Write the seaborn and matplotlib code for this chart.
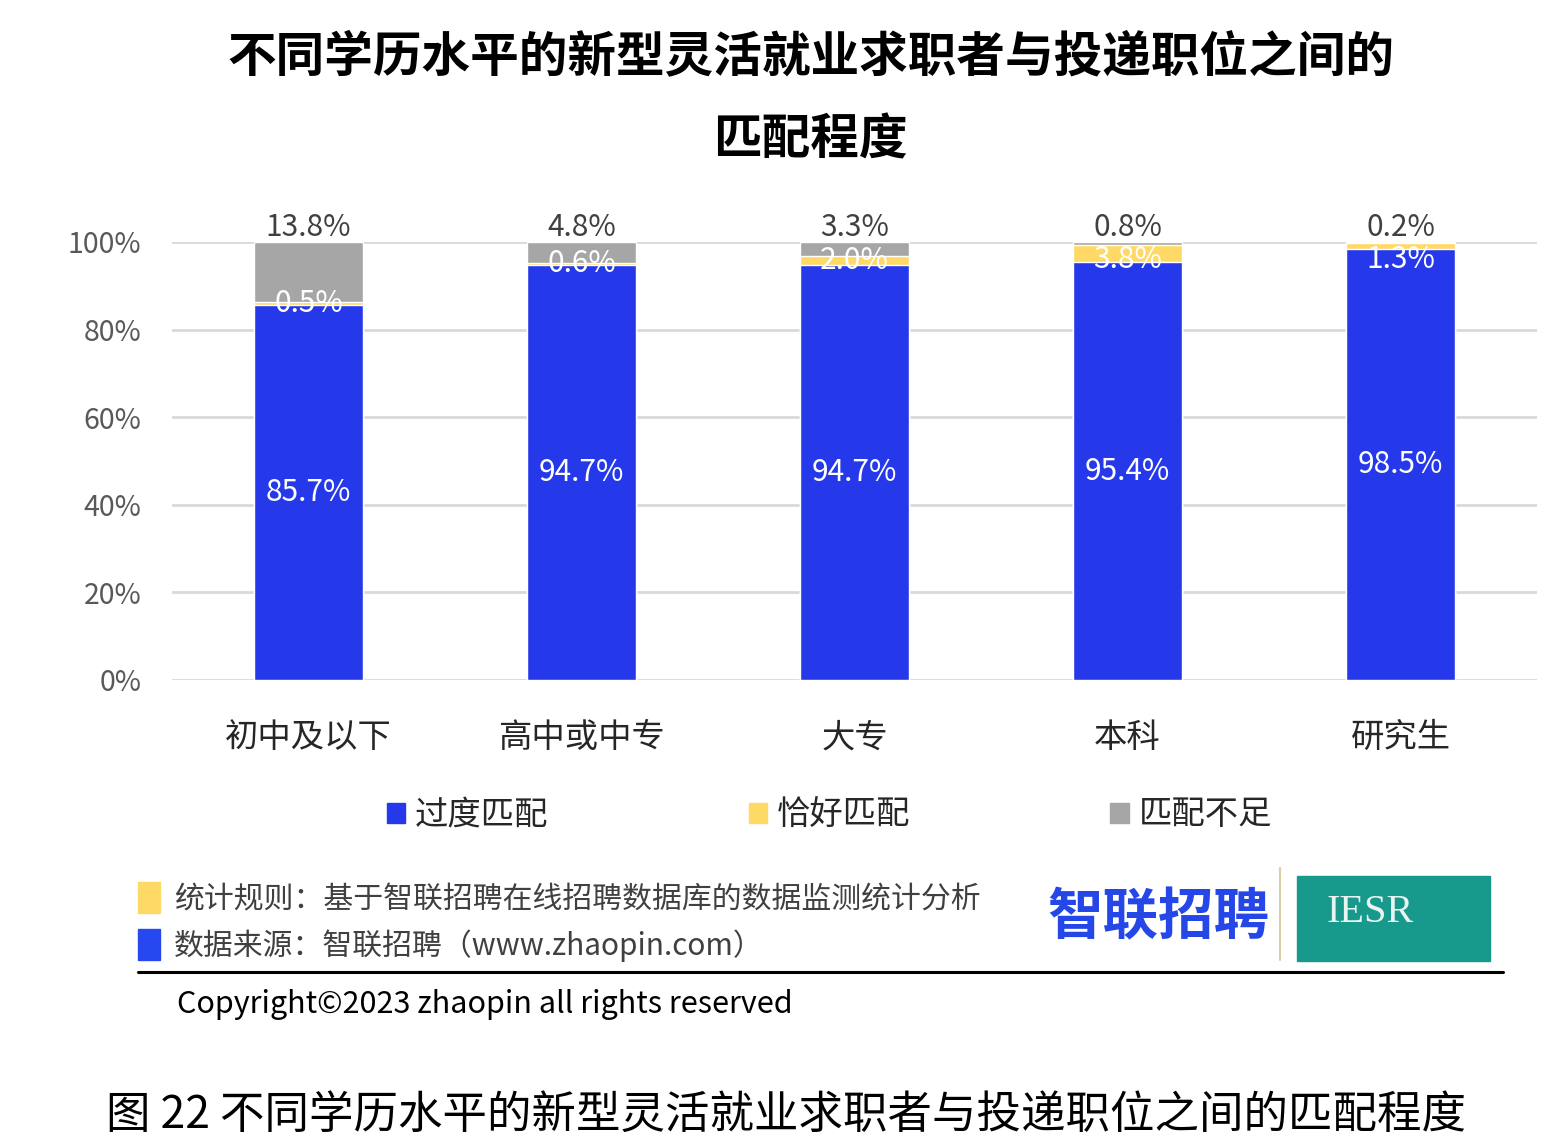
import matplotlib
matplotlib.use("Agg")
import matplotlib.pyplot as plt
import seaborn as sns
import pandas as pd
from matplotlib.patches import Rectangle, Patch
from matplotlib.lines import Line2D

# Données
categories = ["初中及以下", "高中或中专", "大专", "本科", "研究生"]
over_match = [85.7, 94.7, 94.7, 95.4, 98.5]
exact_match = [0.5, 0.6, 2.0, 3.8, 1.3]
under_match = [13.8, 4.8, 3.3, 0.8, 0.2]
series_names = ["过度匹配", "恰好匹配", "匹配不足"]
y_ticks = [0, 20, 40, 60, 80, 100]

BLUE = "#2639EA"
YELLOW = "#FFD966"
GREY = "#A6A6A6"
TEXT = "#404040"

sns.set_theme(style="white")
plt.rcParams["font.family"] = ["Noto Sans CJK SC", "DejaVu Sans"]

df = pd.DataFrame({"cat": categories, "over": over_match,
                   "exact": exact_match, "under": under_match})
df["top2"] = df["over"] + df["exact"]
df["total"] = df["top2"] + df["under"]

fig = plt.figure(figsize=(15.65, 11.43), dpi=100)
ax = fig.add_axes([0.1099, 0.4051, 0.8722, 0.3832])

# barres empilées : on superpose les cumuls
for col, color in [("total", GREY), ("top2", YELLOW), ("over", BLUE)]:
    sns.barplot(data=df, x="cat", y=col, order=categories, color=color,
                saturation=1, width=0.4, errorbar=None, ax=ax)

ax.set_ylim(0, 100)
ax.set_xlim(-0.5, len(categories) - 0.5)
ax.set_yticks(y_ticks)
ax.set_yticklabels([f"{t}%" for t in y_ticks])
ax.yaxis.grid(True, color="#D9D9D9", lw=2)
ax.set_axisbelow(True)
for s in ax.spines.values():
    s.set_visible(False)
ax.set_xlabel("")
ax.set_ylabel("")
ax.tick_params(axis="x", length=0, pad=29, labelsize=24, labelcolor="#262626")
ax.tick_params(axis="y", length=0, pad=22, labelsize=20.5, labelcolor="#595959")

# étiquettes de valeurs
for i, row in df.iterrows():
    ax.text(i, row["over"] / 2, f"{row['over']:.1f}%", ha="center", va="center",
            color="white", fontsize=21.5)
    y_mid = min(row["over"] + row["exact"] / 2, 96.0)
    ax.text(i, y_mid, f"{row['exact']:.1f}%", ha="center", va="center",
            color="white", fontsize=21.5)
    ax.annotate(f"{row['under']:.1f}%", xy=(i, 100), xytext=(0, -1),
                textcoords="offset points", ha="center", va="bottom",
                color=TEXT, fontsize=21.5, annotation_clip=False)

handles = [Patch(color=c) for c in (BLUE, YELLOW, GREY)]
fig.legend(handles, series_names, loc="center", bbox_to_anchor=(0.530, 0.287),
           ncol=3, frameon=False, fontsize=24, handlelength=0.55,
           handleheight=0.55, handletextpad=0.3, columnspacing=6.0)

# titre
fig.text(0.518, 1 - 57 / 1143, "不同学历水平的新型灵活就业求职者与投递职位之间的",
         ha="center", va="center", fontsize=35, fontweight="bold", color="black")
fig.text(0.518, 1 - 140 / 1143, "匹配程度", ha="center", va="center",
         fontsize=35, fontweight="bold", color="black")

# pied de page
W, H = 1565, 1143
fig.patches.append(Rectangle((138 / W, 1 - 913 / H), 22 / W, 31 / H,
                             transform=fig.transFigure, color=YELLOW))
fig.patches.append(Rectangle((138 / W, 1 - 960 / H), 22 / W, 31 / H,
                             transform=fig.transFigure, color="#2548F0"))
fig.text(174 / W, 1 - 900 / H, "统计规则：基于智联招聘在线招聘数据库的数据监测统计分析",
         ha="left", va="center", fontsize=21.5, color=TEXT)
fig.text(174 / W, 1 - 946 / H, "数据来源：智联招聘（www.zhaopin.com）",
         ha="left", va="center", fontsize=21.5, color=TEXT)
fig.lines.append(Line2D([138 / W, 1503 / W], [1 - 972 / H, 1 - 972 / H],
                        transform=fig.transFigure, color="black", lw=2.2))
fig.text(177 / W, 1 - 1004 / H, "Copyright©2023 zhaopin all rights reserved",
         ha="left", va="center", fontsize=22, color="black")

# logos
fig.text(1158 / W, 1 - 918 / H, "智联招聘", ha="center", va="center",
         fontsize=40, fontweight="bold", color="#2547E8")
fig.lines.append(Line2D([1280 / W, 1280 / W], [1 - 960 / H, 1 - 868 / H],
                        transform=fig.transFigure, color="#D8CFA8", lw=1.5))
fig.patches.append(Rectangle((1297 / W, 1 - 961 / H), 193 / W, 85 / H,
                             transform=fig.transFigure, color="#17998B"))
fig.text(1370 / W, 1 - 912 / H, "IESR", ha="center", va="center",
         fontsize=29, color="#E8F4F2", family="Liberation Serif")

# légende de la figure
fig.text(786 / W, 1 - 1115 / H, "图 22 不同学历水平的新型灵活就业求职者与投递职位之间的匹配程度",
         ha="center", va="center", fontsize=32, color="black")

fig.savefig("out.png", dpi=100)
